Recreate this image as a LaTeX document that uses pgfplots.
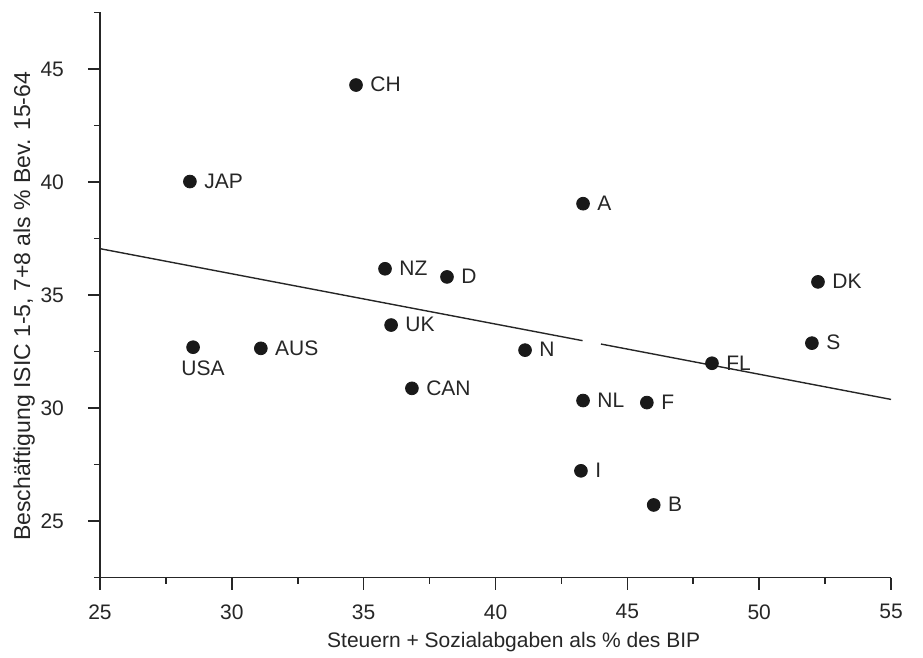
\documentclass[border=0pt]{standalone}
\usepackage{pgfplots}
\pgfplotsset{compat=1.18}
\usepackage{pgfplotstable}
\usepackage{fontspec}
\setmainfont{Liberation Sans}
\pgfplotstableread{
x y lab
34.71 44.29 CH
28.41 40.02 JAP
43.32 39.04 A
35.81 36.16 NZ
38.16 35.80 D
52.23 35.58 DK
36.04 33.67 UK
31.10 32.64 AUS
41.12 32.56 N
52.00 32.87 S
48.21 31.98 FL
36.83 30.87 CAN
43.32 30.33 NL
45.74 30.24 F
43.24 27.22 I
46.00 25.71 B
}\datatable
\pgfplotstableread{
x y lab
28.53 32.69 USA
}\usatable
\begin{document}
\begin{tikzpicture}
\begin{axis}[
  name=ax,
  scale only axis,
  width=395.5pt, height=282.5pt,
  xmin=25, xmax=55, ymin=22.5, ymax=47.5,
  axis x line*=bottom, axis y line*=left,
  axis line style={black!85, line width=0.8pt},
  xtick={25,30,...,55}, ytick={25,30,...,45},
  minor xtick={27.5,32.5,...,52.5},
  minor ytick={22.5,27.5,...,47.5},
  tick align=outside,
  major tick length=6pt, minor tick length=3pt,
  tick style={black!85, line width=0.8pt},
  /pgf/number format/assume math mode=true,
  ticklabel style={font=\fontsize{10.5}{12}\selectfont, text=black!85},
  xticklabel style={yshift=-3.9pt},
  yticklabel style={xshift=-8.5pt},
  xlabel={Steuern + Sozialabgaben als \% des BIP},
  ylabel={Beschäftigung ISIC 1-5, 7+8 als \% Bev. 15-64},
  xlabel style={font=\fontsize{10.5}{12}\selectfont, text=black!85,
    at={(axis description cs:0.523,0)}, anchor=center, yshift=-32.5pt},
  ylabel style={font=\fontsize{11.5}{13}\selectfont, text=black!85,
    at={(axis description cs:-0.096,0.48)}, anchor=center},
  clip=false,
]
\addplot[black!85, line width=0.7pt] coordinates {(25,37.05) (43.3,32.98)};
\addplot[black!85, line width=0.7pt] coordinates {(44.0,32.83) (55,30.38)};
\addplot[only marks, mark=*, mark size=3.2pt, mark options={fill=black!90, draw=black!90},
  point meta=explicit symbolic,
  nodes near coords,
  every node near coord/.append style={anchor=west, font=\fontsize{10.5}{12}\selectfont, text=black!85,
    xshift=5pt, yshift=0.2pt, inner sep=2pt},
] table[x=x, y=y, meta=lab] {\datatable};
\addplot[only marks, mark=*, mark size=3.2pt, mark options={fill=black!90, draw=black!90},
  point meta=explicit symbolic,
  nodes near coords,
  every node near coord/.append style={anchor=north, font=\fontsize{10.5}{12}\selectfont, text=black!85,
    xshift=5pt, yshift=-4.5pt, inner sep=2pt},
] table[x=x, y=y, meta=lab] {\usatable};
\end{axis}
\pgfresetboundingbox
\path[use as bounding box] ([xshift=-50pt,yshift=-39.75pt]ax.south west) rectangle ([xshift=16pt,yshift=6.25pt]ax.north east);
\end{tikzpicture}
\end{document}
